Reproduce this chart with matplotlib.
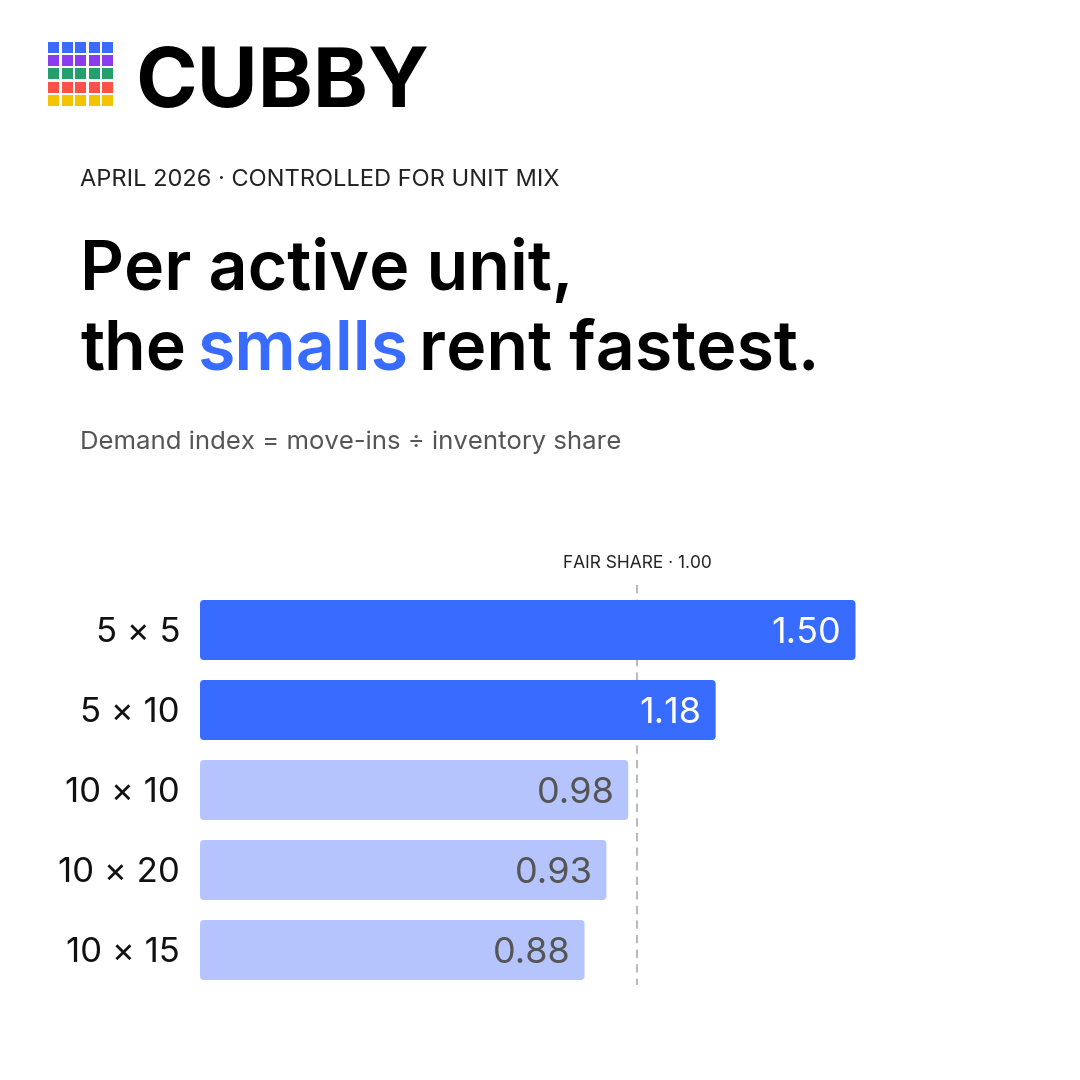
import matplotlib
matplotlib.use("Agg")
import matplotlib.pyplot as plt
from matplotlib.patches import FancyBboxPatch, Rectangle

plt.rcParams['font.family'] = ['Inter', 'DejaVu Sans']

# data
sizes = ['5 × 5', '5 × 10', '10 × 10', '10 × 20', '10 × 15']
demand_index = [1.50, 1.18, 0.98, 0.93, 0.88]
fair_share = 1.00
value_labels = ['1.50', '1.18', '0.98', '0.93', '0.88']

logo_rows = ['#3a6bff', '#8b3cf0', '#22a06b', '#ff5148', '#f5c400']

BLUE = '#386bff'
LIGHT = '#b6c4fd'

W = H = 1080
fig = plt.figure(figsize=(10.8, 10.8), dpi=100)
fig.patch.set_facecolor('white')
renderer = fig.canvas.get_renderer()


def fx(px):
    return px / W


def fy(py):
    return 1 - py / H


# logo grid
for r, c in enumerate(logo_rows):
    for k in range(5):
        x0 = 48 + k * 13.5
        y0 = 42 + r * 13.2
        fig.patches.append(Rectangle((fx(x0), fy(y0 + 11)), 11 / W, 11 / H,
                                     transform=fig.transFigure, color=c, lw=0))
fig.text(fx(135), fy(107), 'CUBBY', fontsize=60, fontweight='bold',
         color='black', va='baseline', ha='left')

fig.text(fx(80), fy(186), 'APRIL 2026 · CONTROLLED FOR UNIT MIX', fontsize=17,
         color='#222222', va='baseline', ha='left')

# title
tsize = 49
fig.text(fx(80), fy(290), 'Per active unit,', fontsize=tsize, fontweight='semibold',
         color='black', va='baseline')
x = 80
for word, col in [('the', 'black'), ('smalls', BLUE), ('rent fastest.', 'black')]:
    t = fig.text(fx(x), fy(370), word, fontsize=tsize, fontweight='semibold',
                 color=col, va='baseline')
    x = t.get_window_extent(renderer).x1 + 11

fig.text(fx(80), fy(449), 'Demand index = move-ins ÷ inventory share', fontsize=18.5,
         color='#555555', va='baseline')

# chart axes: x=0 at px 200, 437 px per unit; rows 80 px apart, row 0 at px 630
x_max = 2.0
y_top, y_bot = -0.6, 4.5
ax = fig.add_axes([fx(200), fy(630 + 80 * y_bot), 437 * x_max / W, 80 * (y_bot - y_top) / H])
ax.set_xlim(0, x_max)
ax.set_ylim(y_bot, y_top)
ax.axis('off')

bar_h = 0.75
r = 4 / 437
for i, v in enumerate(demand_index):
    col = BLUE if v > fair_share else LIGHT
    ax.add_patch(FancyBboxPatch((0, i - bar_h / 2), v, bar_h,
                                boxstyle=f'round,pad=0,rounding_size={r}',
                                mutation_aspect=437 / 80, fc=col, ec='none', zorder=2))
    tc = 'white' if v > fair_share else '#555555'
    ax.text(v - 14 / 437, i, value_labels[i], ha='right', va='center_baseline',
            fontsize=26, color=tc, zorder=3)
    ax.text(-20 / 437, i, sizes[i], ha='right', va='center_baseline',
            fontsize=25, color='#111111', clip_on=False)

ax.plot([fair_share, fair_share], [-0.56, 4.44], color='#bbbbbb', lw=1.5,
        ls=(0, (4, 3)), zorder=1, clip_on=False)
ax.text(fair_share, -0.78, 'FAIR SHARE · 1.00', ha='center', va='baseline',
        fontsize=12.5, color='#222222', clip_on=False)

fig.savefig('out.png', dpi=100, facecolor='white')
